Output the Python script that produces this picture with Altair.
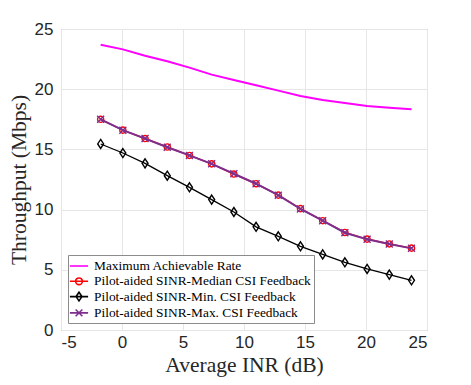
import altair as alt
import pandas as pd

inr = [-1.75, 0.07, 1.89, 3.71, 5.53, 7.35, 9.17, 10.99, 12.81, 14.63, 16.45, 18.27, 20.09, 21.91, 23.73]
max_rate = [23.70, 23.31, 22.78, 22.32, 21.79, 21.21, 20.76, 20.32, 19.88, 19.44, 19.10, 18.85, 18.60, 18.46, 18.33]
median_fb = [17.50, 16.60, 15.90, 15.20, 14.50, 13.80, 12.95, 12.15, 11.20, 10.08, 9.08, 8.10, 7.55, 7.15, 6.80]
min_fb = [15.45, 14.70, 13.84, 12.82, 11.85, 10.83, 9.80, 8.57, 7.78, 6.95, 6.28, 5.62, 5.07, 4.60, 4.13]
max_fb = [17.50, 16.60, 15.90, 15.18, 14.50, 13.80, 12.98, 12.15, 11.20, 10.05, 9.08, 8.08, 7.53, 7.14, 6.78]

names = [
    "Maximum Achievable Rate",
    "Pilot-aided SINR-Median CSI Feedback",
    "Pilot-aided SINR-Min. CSI Feedback",
    "Pilot-aided SINR-Max. CSI Feedback",
]
colors = ["#FF00FF", "#FF0000", "#000000", "#7E2F8E"]
series_vals = [max_rate, median_fb, min_fb, max_fb]

rows = []
for n, vals in zip(names, series_vals):
    for x, y in zip(inr, vals):
        rows.append({"inr": x, "tp": y, "series": n})
df = pd.DataFrame(rows)

xenc = alt.X("inr:Q", scale=alt.Scale(domain=[-5, 25], nice=False),
             axis=alt.Axis(values=[-5, 0, 5, 10, 15, 20, 25], title="Average INR (dB)",
                           labelExpr="toString(datum.value)",
                           titleY=41, titleBaseline="alphabetic", labelPadding=4))
yenc = alt.Y("tp:Q", scale=alt.Scale(domain=[0, 25], nice=False),
             axis=alt.Axis(values=[0, 5, 10, 15, 20, 25], title="Throughput (Mbps)",
                           titleX=-42, titleY=150.5, titleAngle=-90, titleBaseline="middle",
                           titleAlign="center", labelPadding=8))

base = alt.Chart(df).encode(x=xenc, y=yenc)

marker_shapes = {
    names[1]: "circle",
    names[2]: "M0,-1L0.66,0L0,1L-0.66,0Z",
    names[3]: "M-1,-1L1,1M-1,1L1,-1",
}
marker_sizes = {names[1]: 38, names[2]: 81, names[3]: 49}
line_widths = [2.0, 1.5, 1.3, 2.0]

layers = []
for n, c, w in zip(names, colors, line_widths):
    sub = base.transform_filter(alt.datum.series == n)
    layers.append(sub.mark_line(color=c, strokeWidth=w))
    if n in marker_shapes:
        layers.append(sub.mark_point(shape=marker_shapes[n], size=marker_sizes[n],
                                     filled=False, color=c, strokeWidth=1.4, opacity=1))

legend_paths = [
    "M-1.3,0L1.3,0",
    "M-1.3,0L1.3,0M0.48,0A0.48,0.48 0 1,1 -0.48,0A0.48,0.48 0 1,1 0.48,0",
    "M-1.3,0L1.3,0M0,-0.62L0.42,0L0,0.62L-0.42,0Z",
    "M-1.3,0L1.3,0M-0.48,-0.48L0.48,0.48M-0.48,0.48L0.48,-0.48",
]

legend_layer = base.mark_point(filled=False, strokeOpacity=0, fillOpacity=0).encode(
    color=alt.Color("series:N", scale=alt.Scale(domain=names, range=colors),
                    legend=alt.Legend(title=None, orient="none", legendX=7, legendY=226,
                                      symbolSize=196, symbolStrokeWidth=1.6,
                                      symbolOpacity=1, labelFont="Liberation Serif",
                                      labelFontSize=13.4, labelColor="#000000",
                                      labelLimit=400, padding=3, rowPadding=0.3,
                                      labelOffset=7, strokeColor="#8c8c8c",
                                      fillColor="#ffffff")),
    shape=alt.Shape("series:N", scale=alt.Scale(domain=names, range=legend_paths)),
)

chart = alt.layer(*layers, legend_layer).properties(
    width=366, height=301,
    background="white",
    autosize=alt.AutoSizeParams(type="none"),
    padding={"left": 53, "top": 21, "right": 36, "bottom": 47},
).configure_view(
    stroke="#8c8c8c", strokeWidth=1
).configure_axis(
    domain=False, ticks=False, tickSize=0, grid=True, gridColor="#e6e6e6",
    labelFont="Liberation Sans", labelFontSize=17, labelColor="#262626",
    titleFont="Liberation Serif", titleFontSize=21.5, titleFontWeight="normal",
    titleColor="#262626",
).configure_legend(
    labelFont="Liberation Serif", labelFontSize=13.4, labelColor="#000000",
)

chart.save("out.html", embed_options={"renderer": "svg", "actions": False})
